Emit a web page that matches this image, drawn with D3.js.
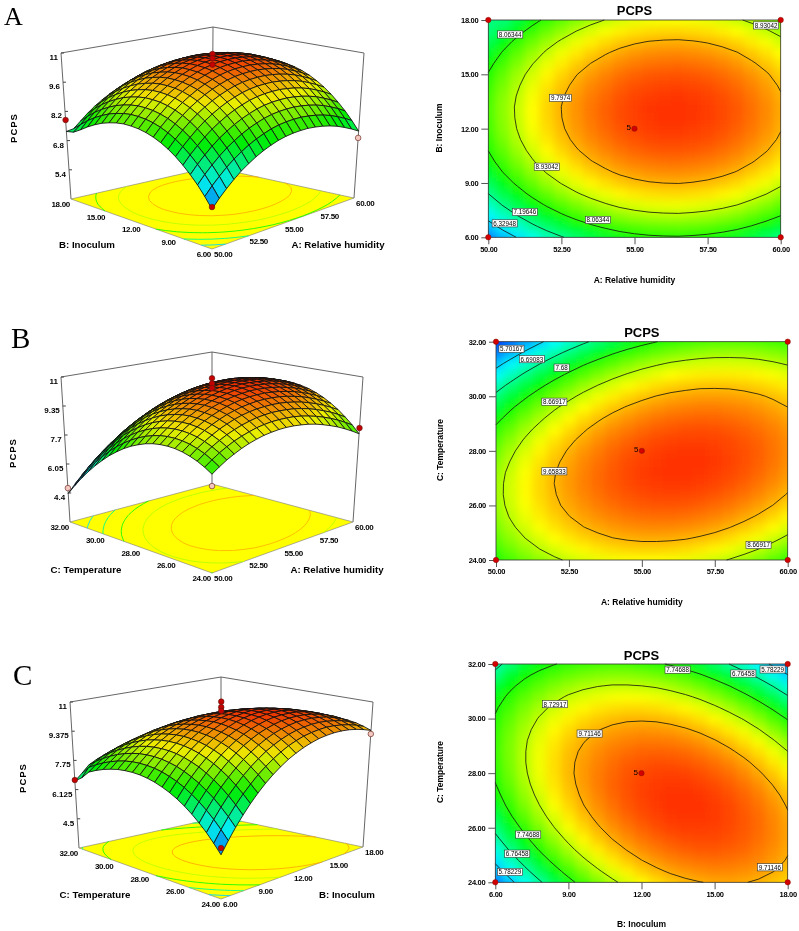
<!DOCTYPE html>
<html>
<head>
<meta charset="utf-8">
<title>PCPS response surfaces</title>
<script src="https://cdn.jsdelivr.net/npm/d3@7"></script>
<style>
  body { margin: 0; background: #fff; }
  svg { display: block; filter: blur(0.35px); }
  text { font-family: "Liberation Sans", Arial, sans-serif; fill: #000; }
</style>
</head>
<body>
<div id="chart"></div>
<script>
// PCPS, rows go from low to high on the second factor
const gridA = [
[5.68,6.04,6.36,6.66,6.93,7.16,7.37,7.55,7.70,7.83,7.92,7.98,8.01,8.02,7.99,7.94,7.86,7.75,7.60,7.43,7.23],
[6.12,6.48,6.80,7.10,7.37,7.60,7.81,7.99,8.14,8.27,8.36,8.42,8.45,8.46,8.43,8.38,8.30,8.19,8.04,7.87,7.67],
[6.52,6.88,7.20,7.50,7.77,8.00,8.21,8.39,8.54,8.67,8.76,8.82,8.85,8.86,8.83,8.78,8.70,8.59,8.44,8.27,8.07],
[6.87,7.23,7.55,7.85,8.12,8.35,8.56,8.74,8.89,9.02,9.11,9.17,9.20,9.21,9.18,9.13,9.05,8.94,8.79,8.62,8.42],
[7.19,7.55,7.87,8.17,8.44,8.67,8.88,9.06,9.21,9.34,9.43,9.49,9.52,9.53,9.50,9.45,9.37,9.26,9.11,8.94,8.74],
[7.47,7.83,8.15,8.45,8.72,8.95,9.16,9.34,9.49,9.62,9.71,9.77,9.80,9.81,9.78,9.73,9.65,9.54,9.39,9.22,9.02],
[7.71,8.07,8.39,8.69,8.96,9.19,9.40,9.58,9.73,9.86,9.95,10.01,10.04,10.05,10.02,9.97,9.89,9.78,9.63,9.46,9.26],
[7.91,8.27,8.59,8.89,9.16,9.39,9.60,9.78,9.93,10.06,10.15,10.21,10.24,10.25,10.22,10.17,10.09,9.98,9.83,9.66,9.46],
[8.07,8.43,8.75,9.05,9.32,9.55,9.76,9.94,10.09,10.22,10.31,10.37,10.40,10.41,10.38,10.33,10.25,10.14,9.99,9.82,9.62],
[8.19,8.55,8.87,9.17,9.44,9.67,9.88,10.06,10.21,10.34,10.43,10.49,10.52,10.53,10.50,10.45,10.37,10.26,10.11,9.94,9.74],
[8.27,8.63,8.95,9.25,9.52,9.75,9.96,10.14,10.29,10.42,10.51,10.57,10.60,10.61,10.58,10.53,10.45,10.34,10.19,10.02,9.82],
[8.31,8.67,8.99,9.29,9.56,9.79,10.00,10.18,10.33,10.46,10.55,10.61,10.64,10.65,10.62,10.57,10.49,10.38,10.23,10.06,9.86],
[8.32,8.68,9.00,9.30,9.57,9.80,10.01,10.19,10.34,10.47,10.56,10.62,10.65,10.66,10.63,10.58,10.50,10.39,10.24,10.07,9.87],
[8.28,8.64,8.96,9.26,9.53,9.76,9.97,10.15,10.30,10.43,10.52,10.58,10.61,10.62,10.59,10.54,10.46,10.35,10.20,10.03,9.83],
[8.20,8.56,8.88,9.18,9.45,9.68,9.89,10.07,10.22,10.35,10.44,10.50,10.53,10.54,10.51,10.46,10.38,10.27,10.12,9.95,9.75],
[8.09,8.45,8.77,9.07,9.34,9.57,9.78,9.96,10.11,10.24,10.33,10.39,10.42,10.43,10.40,10.35,10.27,10.16,10.01,9.84,9.64],
[7.93,8.29,8.61,8.91,9.18,9.41,9.62,9.80,9.95,10.08,10.17,10.23,10.26,10.27,10.24,10.19,10.11,10.00,9.85,9.68,9.48],
[7.74,8.10,8.42,8.72,8.99,9.22,9.43,9.61,9.76,9.89,9.98,10.04,10.07,10.08,10.05,10.00,9.92,9.81,9.66,9.49,9.29],
[7.51,7.87,8.19,8.49,8.76,8.99,9.20,9.38,9.53,9.66,9.75,9.81,9.84,9.85,9.82,9.77,9.69,9.58,9.43,9.26,9.06],
[7.30,7.59,7.91,8.21,8.48,8.71,8.92,9.10,9.25,9.38,9.47,9.53,9.56,9.57,9.54,9.49,9.41,9.30,9.15,8.98,8.78],
[7.24,7.30,7.60,7.90,8.17,8.40,8.61,8.79,8.94,9.07,9.16,9.22,9.25,9.26,9.23,9.18,9.10,8.99,8.84,8.67,8.47]
];
const gridB = [
[7.66,7.93,8.18,8.39,8.58,8.74,8.87,8.98,9.05,9.10,9.12,9.11,9.07,9.01,8.92,8.79,8.64,8.47,8.26,8.03,7.77],
[7.91,8.19,8.45,8.67,8.87,9.03,9.17,9.29,9.37,9.43,9.45,9.45,9.43,9.37,9.28,9.17,9.03,8.86,8.67,8.44,8.19],
[8.12,8.41,8.67,8.90,9.11,9.28,9.43,9.55,9.65,9.71,9.75,9.75,9.73,9.69,9.61,9.51,9.37,9.21,9.03,8.81,8.56],
[8.28,8.58,8.85,9.09,9.31,9.49,9.65,9.78,9.88,9.95,9.99,10.01,10.00,9.96,9.89,9.80,9.67,9.52,9.34,9.13,8.90],
[8.40,8.71,8.99,9.24,9.46,9.65,9.82,9.95,10.06,10.14,10.20,10.22,10.22,10.19,10.13,10.04,9.93,9.78,9.61,9.41,9.18],
[8.48,8.79,9.08,9.34,9.57,9.77,9.94,10.09,10.21,10.30,10.36,10.39,10.40,10.37,10.32,10.24,10.14,10.00,9.84,9.65,9.43],
[8.51,8.83,9.13,9.40,9.63,9.84,10.03,10.18,10.31,10.40,10.47,10.52,10.53,10.51,10.47,10.40,10.30,10.18,10.02,9.84,9.63],
[8.50,8.83,9.14,9.41,9.66,9.88,10.07,10.23,10.36,10.47,10.55,10.60,10.62,10.61,10.58,10.52,10.43,10.31,10.16,9.99,9.79],
[8.45,8.79,9.10,9.38,9.64,9.86,10.06,10.23,10.37,10.49,10.58,10.64,10.67,10.67,10.64,10.59,10.51,10.40,10.26,10.09,9.90],
[8.35,8.69,9.02,9.31,9.57,9.80,10.01,10.19,10.34,10.47,10.56,10.63,10.67,10.68,10.66,10.62,10.54,10.44,10.31,10.16,9.97],
[8.20,8.56,8.89,9.19,9.46,9.70,9.92,10.11,10.27,10.40,10.50,10.58,10.63,10.64,10.64,10.60,10.53,10.44,10.32,10.17,9.99],
[8.02,8.38,8.72,9.03,9.31,9.56,9.78,9.98,10.15,10.29,10.40,10.48,10.54,10.57,10.57,10.54,10.48,10.40,10.29,10.15,9.98],
[7.79,8.16,8.51,8.82,9.11,9.37,9.60,9.81,9.99,10.13,10.25,10.35,10.41,10.45,10.46,10.44,10.39,10.31,10.21,10.08,9.92],
[7.51,7.89,8.25,8.57,8.87,9.14,9.38,9.59,9.78,9.93,10.06,10.17,10.24,10.28,10.30,10.29,10.25,10.18,10.08,9.96,9.81],
[7.20,7.59,7.95,8.28,8.59,8.86,9.11,9.33,9.53,9.69,9.83,9.94,10.02,10.07,10.10,10.10,10.06,10.01,9.92,9.80,9.66],
[6.83,7.23,7.60,7.95,8.26,8.54,8.80,9.03,9.23,9.41,9.55,9.67,9.76,9.82,9.86,9.86,9.84,9.79,9.71,9.60,9.47],
[6.43,6.83,7.21,7.56,7.89,8.18,8.45,8.68,8.90,9.08,9.23,9.36,9.46,9.52,9.57,9.58,9.57,9.52,9.45,9.36,9.23],
[5.98,6.39,6.78,7.14,7.47,7.77,8.05,8.30,8.51,8.70,8.87,9.00,9.11,9.19,9.24,9.26,9.25,9.22,9.16,9.07,8.95],
[5.49,5.91,6.31,6.67,7.01,7.32,7.61,7.86,8.09,8.29,8.46,8.60,8.72,8.80,8.86,8.89,8.89,8.87,8.82,8.73,8.62],
[4.95,5.38,5.79,6.16,6.51,6.83,7.12,7.38,7.62,7.83,8.01,8.16,8.28,8.37,8.44,8.48,8.49,8.48,8.43,8.36,8.26],
[4.37,4.81,5.22,5.61,5.96,6.29,6.59,6.86,7.11,7.32,7.51,7.67,7.80,7.90,7.98,8.03,8.05,8.04,8.00,7.94,7.84]
];
const gridC = [
[5.04,5.62,6.17,6.67,7.14,7.57,7.96,8.31,8.62,8.90,9.13,9.33,9.49,9.62,9.70,9.75,9.76,9.73,9.66,9.55,9.41],
[5.49,6.06,6.59,7.08,7.53,7.94,8.32,8.65,8.95,9.21,9.44,9.62,9.77,9.87,9.94,9.98,9.97,9.92,9.84,9.72,9.56],
[5.91,6.46,6.97,7.45,7.88,8.28,8.64,8.96,9.25,9.49,9.70,9.87,10.00,10.09,10.15,10.17,10.14,10.08,9.99,9.85,9.68],
[6.28,6.82,7.32,7.78,8.20,8.58,8.93,9.23,9.50,9.73,9.93,10.08,10.20,10.28,10.32,10.32,10.28,10.21,10.09,9.94,9.75],
[6.62,7.14,7.62,8.07,8.47,8.84,9.17,9.47,9.72,9.94,10.11,10.25,10.36,10.42,10.44,10.43,10.38,10.29,10.16,10.00,9.79],
[6.92,7.42,7.89,8.32,8.71,9.07,9.38,9.66,9.90,10.10,10.26,10.39,10.48,10.52,10.53,10.51,10.44,10.33,10.19,10.01,9.79],
[7.18,7.67,8.12,8.54,8.91,9.25,9.55,9.82,10.04,10.23,10.38,10.49,10.56,10.59,10.59,10.54,10.46,10.34,10.19,9.99,9.76],
[7.40,7.88,8.31,8.71,9.08,9.40,9.69,9.93,10.14,10.32,10.45,10.54,10.60,10.62,10.60,10.54,10.45,10.31,10.14,9.93,9.68],
[7.58,8.04,8.47,8.85,9.20,9.51,9.78,10.01,10.21,10.37,10.48,10.56,10.61,10.61,10.58,10.50,10.39,10.24,10.06,9.83,9.57],
[7.73,8.18,8.58,8.96,9.29,9.58,9.84,10.06,10.24,10.38,10.48,10.55,10.57,10.56,10.51,10.42,10.30,10.14,9.93,9.69,9.42],
[7.84,8.27,8.66,9.02,9.34,9.62,9.86,10.06,10.22,10.35,10.44,10.49,10.50,10.48,10.41,10.31,10.17,9.99,9.77,9.52,9.22],
[7.91,8.32,8.70,9.04,9.35,9.61,9.84,10.02,10.17,10.29,10.36,10.40,10.39,10.35,10.27,10.16,10.00,9.81,9.57,9.30,9.00],
[7.94,8.34,8.70,9.03,9.32,9.57,9.78,9.95,10.09,10.18,10.24,10.26,10.25,10.19,10.10,9.96,9.79,9.58,9.34,9.05,8.73],
[7.93,8.32,8.67,8.98,9.25,9.49,9.68,9.84,9.96,10.04,10.09,10.09,10.06,9.99,9.88,9.73,9.55,9.32,9.06,8.76,8.43],
[7.89,8.26,8.59,8.89,9.15,9.37,9.55,9.69,9.80,9.86,9.89,9.88,9.84,9.75,9.63,9.46,9.26,9.03,8.75,8.43,8.08],
[7.80,8.16,8.48,8.76,9.00,9.21,9.38,9.50,9.59,9.65,9.66,9.64,9.57,9.47,9.33,9.16,8.94,8.69,8.40,8.07,7.70],
[7.68,8.02,8.33,8.59,8.82,9.01,9.16,9.28,9.35,9.39,9.39,9.35,9.27,9.16,9.01,8.81,8.58,8.31,8.01,7.66,7.28],
[7.52,7.85,8.14,8.39,8.60,8.78,8.91,9.01,9.07,9.10,9.08,9.03,8.94,8.81,8.64,8.43,8.19,7.90,7.58,7.22,6.82],
[7.32,7.64,7.91,8.15,8.35,8.51,8.63,8.71,8.76,8.76,8.73,8.67,8.56,8.41,8.23,8.01,7.75,7.45,7.12,6.74,6.33],
[6.90,7.39,7.65,7.87,8.05,8.20,8.30,8.37,8.40,8.40,8.35,8.27,8.15,7.98,7.79,7.55,7.28,6.96,6.61,6.22,5.80],
[6.60,6.95,7.34,7.55,7.72,7.85,7.94,7.99,8.01,7.99,7.93,7.83,7.69,7.52,7.30,7.05,6.76,6.43,6.07,5.67,5.22]
];

// contour levels printed on the plots
const levelsA = [6.32948, 7.19646, 8.06344, 8.93042, 9.7974];
const levelsB = [5.70167, 6.69083, 7.68, 8.66917, 9.65833];
const levelsC = [5.78229, 6.76458, 7.74688, 8.72917, 9.71146];

// contour labels: factor 1, factor 2, text
const labelsA = [[50.75,17.2,"8.06344"],[59.5,17.7,"8.93042"],[52.47,13.7,"9.7974"],[52,9.9,"8.93042"],[51.25,7.4,"7.19646"],[53.75,6.96,"8.06344"],[50.56,6.77,"6.32948"]];
const labelsB = [[50.53,31.74,"5.70167"],[51.23,31.36,"6.69083"],[52.25,31.05,"7.68"],[52,29.8,"8.66917"],[52,27.25,"9.65833"],[59,24.55,"8.66917"]];
const labelsC = [[13.48,31.79,"7.74688"],[16.18,31.65,"6.76458"],[17.38,31.8,"5.78229"],[8.45,30.53,"8.72917"],[9.87,29.45,"9.71146"],[7.35,25.75,"7.74688"],[6.9,25.05,"6.76458"],[6.6,24.38,"5.78229"],[17.27,24.55,"9.71146"]];

// factor tick values
const ticksHumidity = [50, 52.5, 55, 57.5, 60];
const ticksInoculum = [6, 9, 12, 15, 18];
const ticksTemperature = [24, 26, 28, 30, 32];

// PCPS ticks on the 3d plots
const zTicksA = [5.4, 6.8, 8.2, 9.6, 11];
const zTicksB = [4.4, 6.05, 7.7, 9.35, 11];
const zTicksC = [4.5, 6.125, 7.75, 9.375, 11];

// design points on the 3d plots: factor 1, factor 2, PCPS, above surface (1) or below (0)
const pointsA = [[55,12,11,1],[55,12,10.8,1],[55,12,10.5,1],[50,18,7.79,1],[60,6,6.9,0],[50,6,5.77,1]];
const pointsB = [[55,28,11,1],[55,28,10.7,1],[55,28,10.45,1],[60,24,8.1,1],[50,32,4.68,0],[50,24,7.07,0]];
const pointsC = [[12,28,11.1,1],[12,28,10.8,1],[12,28,10.6,1],[6,32,6.66,1],[18,24,9.21,0],[6,24,5.37,1]];

const panels = [
  { letter: "A", letterPos: [4, 25], letterSize: 26, grid: gridA, levels: levelsA, labels: labelsA, points: pointsA,
    low: 5.2, xTicks: ticksHumidity, yTicks: ticksInoculum, xName: "A: Relative humidity", yName: "B: Inoculum",
    zTicks: zTicksA, zBase: 4,
    bottom: { front: [212, 249], right: [354, 198], left: [71, 199], back: [212, 167] },
    top: { front: [212, 83], right: [364, 53], left: [61, 53], back: [213, 27] },
    zTitle: [14, 128], xTitle3d: [338, 244], yTitle3d: [87, 244],
    rect: [488.3, 20, 780.7, 237.3], titleY: 15, xTitleY: 283, yTitleX: 442, yTitleMid: 128 },
  { letter: "B", letterPos: [11, 348], letterSize: 29, grid: gridB, levels: levelsB, labels: labelsB, points: pointsB,
    low: 4.4, xTicks: ticksHumidity, yTicks: ticksTemperature, xName: "A: Relative humidity", yName: "C: Temperature",
    zTicks: zTicksB, zBase: 2.75,
    bottom: { front: [212, 573], right: [353, 522], left: [70, 522], back: [212, 484] },
    top: { front: [212, 407], right: [363, 377], left: [61, 377], back: [212, 352] },
    zTitle: [13, 453], xTitle3d: [337, 569], yTitle3d: [86, 569],
    rect: [496, 341.7, 787.7, 560], titleY: 337, xTitleY: 605, yTitleX: 443, yTitleMid: 450 },
  { letter: "C", letterPos: [13, 685], letterSize: 29, grid: gridC, levels: levelsC, labels: labelsC, points: pointsC,
    low: 4.6, xTicks: ticksInoculum, yTicks: ticksTemperature, xName: "B: Inoculum", yName: "C: Temperature",
    zTicks: zTicksC, zBase: 2.875,
    bottom: { front: [221, 899], right: [363, 847], left: [79, 848], back: [221, 817] },
    top: { front: [221, 733], right: [373, 702], left: [70, 702], back: [221, 677] },
    zTitle: [23, 778], xTitle3d: [347, 894], yTitle3d: [95, 894],
    rect: [495.3, 664, 787.7, 882.3], titleY: 660, xTitleY: 927, yTitleX: 443, yTitleMid: 772 }
];

const width = 799, height = 931;
const svg = d3.select("#chart").append("svg")
  .attr("width", width)
  .attr("height", height);

const defs = svg.append("defs");
defs.append("filter").attr("id", "soften")
  .attr("x", "-5%").attr("y", "-5%").attr("width", "110%").attr("height", "110%")
  .append("feGaussianBlur").attr("stdDeviation", 4.5);

function rampFor(grid, low) {
  const high = d3.max(grid, r => d3.max(r));
  const step = (high - low) / 4;
  return d3.scaleLinear()
    .domain([low, low + step, low + 2 * step, low + 3 * step, high])
    .range(["#0038ff", "#00ffff", "#00ff00", "#ffff00", "#ff3000"]);
}

// contour rings without the pieces that run along the border of the plot
function contourPath(ring, n, place) {
  const p = d3.path();
  const norm = c => [Math.min(1, Math.max(0, (c[0] - 0.5) / (n - 1))), Math.min(1, Math.max(0, (c[1] - 0.5) / (n - 1)))];
  let penDown = false;
  for (let i = 1; i < ring.length; i++) {
    const a = norm(ring[i - 1]), b = norm(ring[i]);
    const onEdge = (a[0] === b[0] && (a[0] === 0 || a[0] === 1)) || (a[1] === b[1] && (a[1] === 0 || a[1] === 1));
    if (onEdge) { penDown = false; continue; }
    const pa = place(a), pb = place(b);
    if (!penDown) p.moveTo(pa[0], pa[1]);
    p.lineTo(pb[0], pb[1]);
    penDown = true;
  }
  return p.toString();
}

function contourList(panel) {
  const n = panel.grid.length;
  return d3.contours().size([n, n]).thresholds(panel.levels)(panel.grid.flat());
}

function drawSurface(panel) {
  const g = svg.append("g");
  const grid = panel.grid, n = grid.length;
  const color = rampFor(grid, panel.low);
  const zMax = panel.zTicks[panel.zTicks.length - 1];
  const toRight = d3.scaleLinear().domain(d3.extent(panel.xTicks)).range([0, 1]);
  const toLeft = d3.scaleLinear().domain(d3.extent(panel.yTicks)).range([0, 1]);
  const toUp = d3.scaleLinear().domain([panel.zBase, zMax]).range([0, 1]);
  const nodeU = d3.scaleLinear().domain([0, n - 1]).range([0, 1]);

  function corners(c, a, b) {
    const f = c.front, r = c.right, l = c.left, k = c.back;
    return [0, 1].map(i => f[i] * (1 - a) * (1 - b) + r[i] * a * (1 - b) + l[i] * (1 - a) * b + k[i] * a * b);
  }
  function project(a, b, h) {
    const lo = corners(panel.bottom, a, b), hi = corners(panel.top, a, b);
    return [lo[0] + (hi[0] - lo[0]) * h, lo[1] + (hi[1] - lo[1]) * h];
  }
  const line = d3.line();

  // back walls
  const wall = [panel.bottom.left, panel.top.left, panel.top.back, panel.top.right, panel.bottom.right];
  g.append("path").attr("d", line(wall)).attr("fill", "none").attr("stroke", "#555").attr("stroke-width", 0.9);
  g.append("path").attr("d", line([panel.top.back, panel.bottom.back])).attr("fill", "none").attr("stroke", "#555").attr("stroke-width", 0.9);

  // floor with its coloured contours
  const floor = [panel.bottom.front, panel.bottom.right, panel.bottom.back, panel.bottom.left];
  g.append("path").attr("d", line(floor) + "Z").attr("fill", "#ffff00").attr("stroke", "#777").attr("stroke-width", 0.6);
  contourList(panel).forEach(c => {
    c.coordinates.forEach(poly => poly.forEach(ring => {
      g.append("path")
        .attr("d", contourPath(ring, n, q => project(q[0], q[1], 0)))
        .attr("fill", "none").attr("stroke", color(c.value)).attr("stroke-width", 0.9);
    }));
  });

  // surface, far cells first; the fill is dulled since this mesh is coarser than the original
  const cells = [];
  for (let j = 0; j < n - 1; j++) for (let i = 0; i < n - 1; i++) cells.push([i, j]);
  cells.sort((p, q) => (q[0] + q[1]) - (p[0] + p[1]));
  const node = (i, j) => project(nodeU(i), nodeU(j), toUp(grid[j][i]));
  g.selectAll(".cell").data(cells).join("path")
    .attr("class", "cell")
    .attr("d", d => line([node(d[0], d[1]), node(d[0] + 1, d[1]), node(d[0] + 1, d[1] + 1), node(d[0], d[1] + 1)]) + "Z")
    .attr("fill", d => d3.color(color((grid[d[1]][d[0]] + grid[d[1]][d[0] + 1] + grid[d[1] + 1][d[0]] + grid[d[1] + 1][d[0] + 1]) / 4)).darker(0.2))
    .attr("stroke", "#101010").attr("stroke-width", 0.85).attr("stroke-linejoin", "round");

  // design points
  g.selectAll(".pt").data(panel.points).join("circle")
    .attr("class", "pt")
    .attr("cx", d => project(toRight(d[0]), toLeft(d[1]), toUp(d[2]))[0])
    .attr("cy", d => project(toRight(d[0]), toLeft(d[1]), toUp(d[2]))[1])
    .attr("r", 2.8)
    .attr("fill", d => d[3] ? "#c40000" : "#f4c8c0")
    .attr("stroke", "#5a1a10").attr("stroke-width", 0.6);

  // PCPS ticks on the left post
  panel.zTicks.forEach(v => {
    const p = project(0, 1, toUp(v));
    g.append("line").attr("x1", p[0]).attr("x2", p[0] + 3).attr("y1", p[1]).attr("y2", p[1]).attr("stroke", "#444");
    g.append("text").attr("x", p[0] - 3).attr("y", p[1] + 7)
      .attr("text-anchor", "end").attr("font-size", 8).attr("font-weight", "bold")
      .text(String(v));
  });

  // floor tick labels
  panel.xTicks.forEach(v => {
    const p = project(toRight(v), 0, 0);
    g.append("text").attr("x", p[0] + 2).attr("y", p[1] + 8)
      .attr("font-size", 8).attr("font-weight", "bold").attr("letter-spacing", -0.3)
      .text(d3.format(".2f")(v));
  });
  panel.yTicks.forEach(v => {
    const p = project(0, toLeft(v), 0);
    g.append("text").attr("x", p[0] - 1).attr("y", p[1] + 8)
      .attr("text-anchor", "end").attr("font-size", 8).attr("font-weight", "bold").attr("letter-spacing", -0.3)
      .text(d3.format(".2f")(v));
  });

  g.append("text").attr("x", panel.xTitle3d[0]).attr("y", panel.xTitle3d[1] + 4)
    .attr("text-anchor", "middle").attr("font-size", 9.7).attr("font-weight", "bold").text(panel.xName);
  g.append("text").attr("x", panel.yTitle3d[0]).attr("y", panel.yTitle3d[1] + 4)
    .attr("text-anchor", "middle").attr("font-size", 9.7).attr("font-weight", "bold").text(panel.yName);
  g.append("text")
    .attr("transform", "translate(" + (panel.zTitle[0] + 3) + "," + panel.zTitle[1] + ") rotate(-90)")
    .attr("text-anchor", "middle").attr("font-size", 9.5).attr("font-weight", "bold").attr("letter-spacing", 1)
    .text("PCPS");

  svg.append("text").attr("x", panel.letterPos[0]).attr("y", panel.letterPos[1])
    .style("font-family", "'Liberation Serif', 'Times New Roman', serif")
    .attr("font-size", panel.letterSize).text(panel.letter);
}

function drawContourPlot(panel, index) {
  const grid = panel.grid, n = grid.length;
  const [x0, y0, x1, y1] = panel.rect;
  const color = rampFor(grid, panel.low);
  const xDomain = d3.extent(panel.xTicks), yDomain = d3.extent(panel.yTicks);
  const x = d3.scaleLinear().domain(xDomain).range([x0, x1]);
  const y = d3.scaleLinear().domain(yDomain).range([y1, y0]);
  const xFrac = d3.scaleLinear().domain([0, 1]).range(xDomain);
  const yFrac = d3.scaleLinear().domain([0, 1]).range(yDomain);
  const g = svg.append("g");

  const clipId = "plot" + index;
  defs.append("clipPath").attr("id", clipId).append("rect")
    .attr("x", x0).attr("y", y0).attr("width", x1 - x0).attr("height", y1 - y0);

  const cells = [];
  grid.forEach((row, j) => row.forEach((v, i) => cells.push({ i: i, j: j, v: v })));
  const cw = (x1 - x0) / (n - 1), ch = (y1 - y0) / (n - 1);
  const heat = g.append("g").attr("clip-path", "url(#" + clipId + ")");
  [null, "url(#soften)"].forEach(f => {
    const layer = heat.append("g");
    if (f) layer.attr("filter", f);
    layer.selectAll("rect").data(cells).join("rect")
      .attr("x", d => x(xFrac(d.i / (n - 1))) - cw / 2)
      .attr("y", d => y(yFrac(d.j / (n - 1))) - ch / 2)
      .attr("width", cw + 0.5).attr("height", ch + 0.5)
      .attr("fill", d => color(d.v));
  });

  // black contour lines
  contourList(panel).forEach(c => {
    c.coordinates.forEach(poly => poly.forEach(ring => {
      g.append("path")
        .attr("d", contourPath(ring, n, q => [x(xFrac(q[0])), y(yFrac(q[1]))]))
        .attr("fill", "none").attr("stroke", "#111").attr("stroke-width", 0.8);
    }));
  });

  g.append("rect").attr("x", x0).attr("y", y0).attr("width", x1 - x0).attr("height", y1 - y0)
    .attr("fill", "none").attr("stroke", "#333").attr("stroke-width", 0.8);

  // axes
  const bottomAxis = g.append("g").attr("transform", "translate(0," + y1 + ")")
    .call(d3.axisBottom(x).tickValues(panel.xTicks).tickFormat(d3.format(".2f")).tickSize(7).tickPadding(2));
  const leftAxis = g.append("g").attr("transform", "translate(" + x0 + ",0)")
    .call(d3.axisLeft(y).tickValues(panel.yTicks).tickFormat(d3.format(".2f")).tickSize(7).tickPadding(3));
  [bottomAxis, leftAxis].forEach(a => {
    a.select(".domain").remove();
    a.selectAll("line").attr("stroke", "#555");
    a.selectAll("text").style("font-family", "'Liberation Sans', Arial, sans-serif")
      .attr("font-size", 7.5).attr("font-weight", "bold").attr("letter-spacing", -0.3);
  });

  // labels on the contours
  const tag = g.selectAll(".tag").data(panel.labels).join("g")
    .attr("class", "tag")
    .attr("transform", d => "translate(" + x(d[0]) + "," + y(d[1]) + ")");
  tag.append("rect")
    .attr("x", d => -(d[2].length * 3.3 + 2) / 2).attr("y", -3.6)
    .attr("width", d => d[2].length * 3.3 + 2).attr("height", 7.2)
    .attr("fill", "#fff").attr("stroke", "#333").attr("stroke-width", 0.6);
  tag.append("text").attr("text-anchor", "middle").attr("y", 2.4).attr("font-size", 6.3).text(d => d[2]);

  // design points, four corners and the centre with its replicate count
  const xMid = d3.mean(xDomain), yMid = d3.mean(yDomain);
  const dots = [[xDomain[0], yDomain[0]], [xDomain[1], yDomain[0]], [xDomain[0], yDomain[1]], [xDomain[1], yDomain[1]], [xMid, yMid]];
  g.selectAll(".dot").data(dots).join("circle")
    .attr("class", "dot")
    .attr("cx", d => x(d[0])).attr("cy", d => y(d[1])).attr("r", 2.7)
    .attr("fill", "#d40000").attr("stroke", "#801008").attr("stroke-width", 0.5);
  g.append("text").attr("x", x(xMid) - 3.5).attr("y", y(yMid) + 1.5)
    .attr("text-anchor", "end").attr("font-size", 8).text("5");

  // titles
  g.append("text").attr("x", (x0 + x1) / 2).attr("y", panel.titleY)
    .attr("text-anchor", "middle").attr("font-size", 13).attr("font-weight", "bold").text("PCPS");
  g.append("text").attr("x", (x0 + x1) / 2).attr("y", panel.xTitleY)
    .attr("text-anchor", "middle").attr("font-size", 8.5).attr("font-weight", "bold").text(panel.xName);
  g.append("text")
    .attr("transform", "translate(" + panel.yTitleX + "," + panel.yTitleMid + ") rotate(-90)")
    .attr("text-anchor", "middle").attr("font-size", 8.5).attr("font-weight", "bold").text(panel.yName);
}

panels.forEach((p, i) => {
  drawSurface(p);
  drawContourPlot(p, i);
});
</script>
</body>
</html>
